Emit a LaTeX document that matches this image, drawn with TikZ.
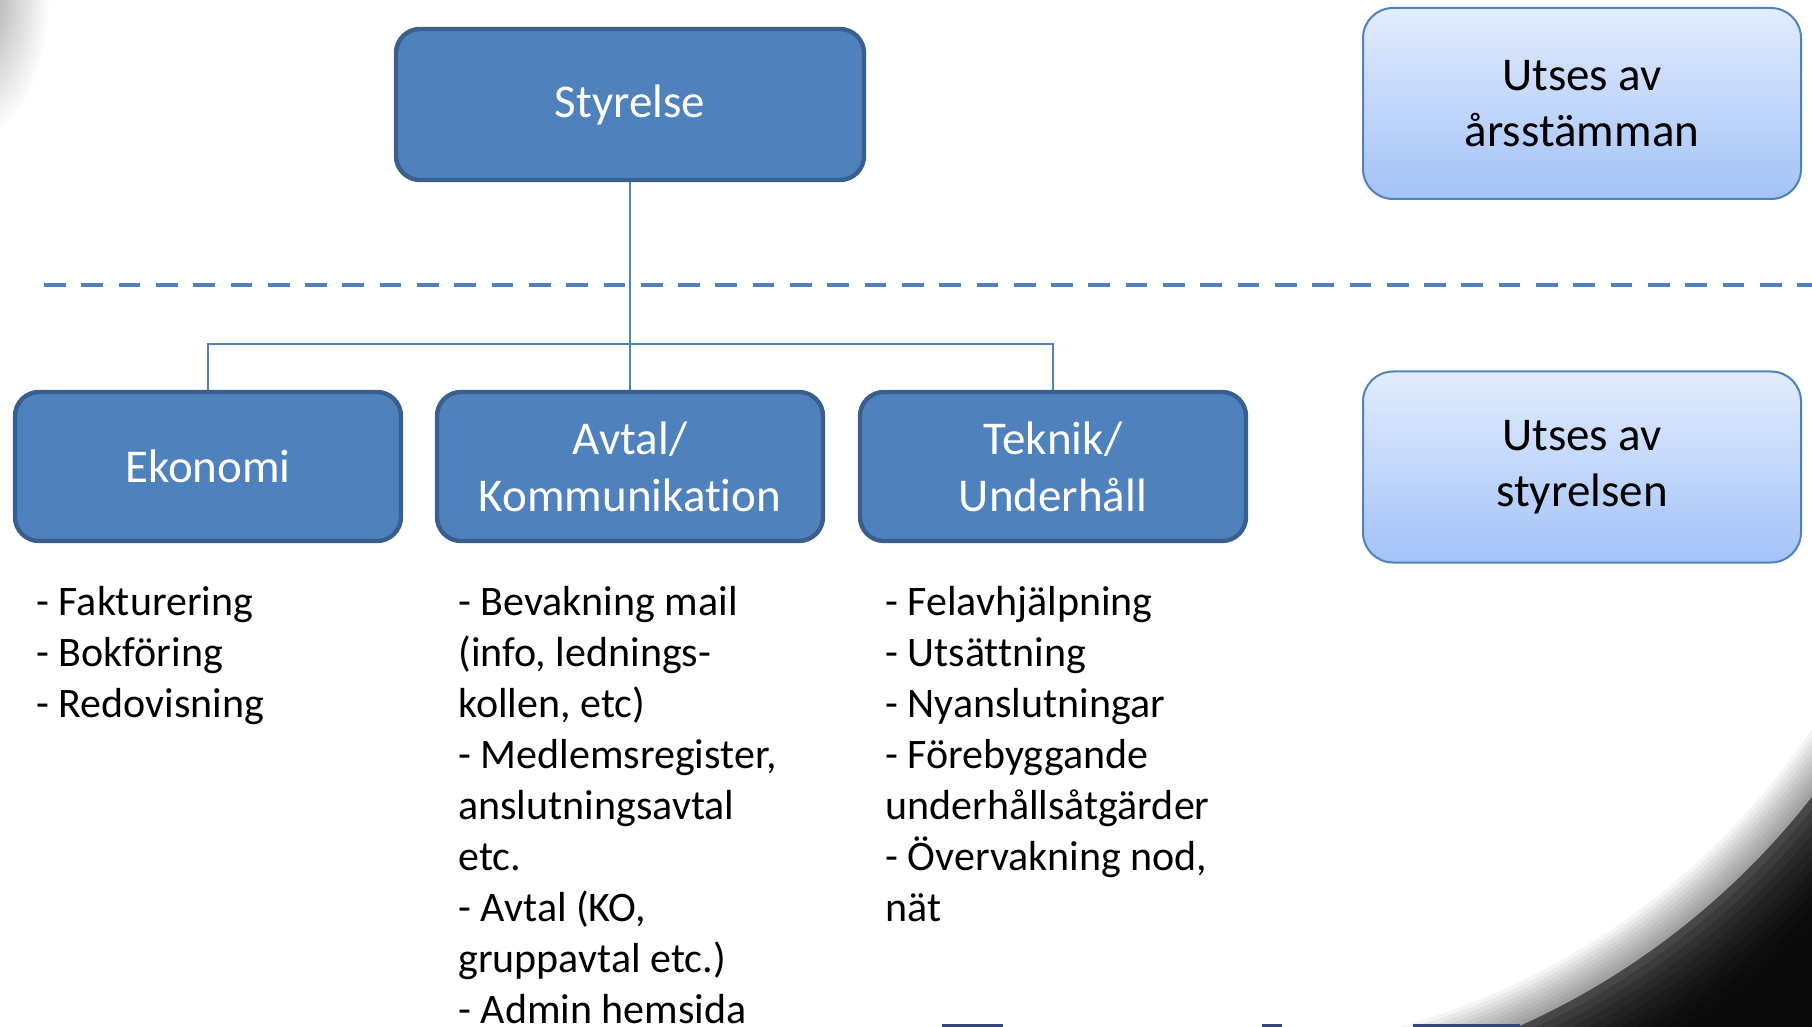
\documentclass[tikz,border=0pt]{standalone}
\usepackage{fontspec}
\setmainfont{Carlito}[Ligatures=NoCommon]
\usepackage{tikz}
\definecolor{unit}{HTML}{4F81BD}
\definecolor{edge}{HTML}{3A5F8E}
\definecolor{link}{HTML}{4F81BD}
\definecolor{top}{HTML}{E2ECFD}
\definecolor{bottom}{HTML}{A3C2F7}
\definecolor{bar}{HTML}{34467A}
\tikzset{board/.style={white,draw=edge,fill=unit,line width=2.2pt,rounded corners=12pt,rectangle,align=center,font=\fontsize{23.5pt}{28.5pt}\selectfont}}
\tikzset{unit/.style={board,minimum width=193pt,minimum height=74.5pt}}
\tikzset{oversee/.style={black,draw=unit,line width=1pt,rounded corners=15pt,top color=top,bottom color=bottom,rectangle,align=center,minimum width=219pt,minimum height=95.5pt,font=\fontsize{23.5pt}{28pt}\selectfont}}
\tikzset{tasks/.style={black,inner sep=0pt,anchor=north west,align=left,font=\fontsize{21pt}{25.5pt}\selectfont}}
\tikzset{wire/.style={draw=link,line width=1pt}}

\begin{document}
\begin{tikzpicture}[x=0.5pt,y=-0.5pt]
    \useasboundingbox (0,0) rectangle (1812,1027);
    \fill[white] (0,0) rectangle (1812,1027);
    \begin{scope}
        \clip (0,0) rectangle (1812,1027);
        \shade[inner color=black!38,outer color=white] (-25,-10) ellipse (75 and 150);
    \end{scope}
    \begin{scope}
        \clip (1300,600) rectangle (1840,1050);
        \foreach \r in {730,734,...,766} \fill[black,opacity=0.045,even odd rule] (1250,550) rectangle (1900,1100) (1205,323) circle (\r);
        \fill[black!72,even odd rule] (1250,550) rectangle (1900,1100) (1205,323) circle (770);
        \foreach \r in {778,786,...,850} \fill[black,opacity=0.16,even odd rule] (1250,550) rectangle (1900,1100) (1205,323) circle (\r);
    \end{scope}

    \node[board,minimum width=234pt,minimum height=75.5pt] (styrelse) at (630,104.5) {\raisebox{-1.5pt}{Styrelse}};

    \node[unit] (ekonomi) at (208,466.5) {Ekonomi};
    \node[unit] (avtal) at (630,466.5) {Avtal/\\Kommunikation};
    \node[unit] (teknik) at (1053,466.5) {Teknik/\\Underhåll};

    \node[oversee] (utses1) at (1582,103.5) {Utses av\\årsstämman};
    \node[oversee] (utses2) at (1582,467) {Utses av\\styrelsen};

    \draw[draw=link,line width=2pt,dash pattern=on 10.85pt off 7.8pt] (44,285) -- (1812,285);

    \coordinate (bar) at (630,344);
    \draw[wire] (styrelse) -- (avtal);
    \draw[wire] (ekonomi.north) |- (bar) -| (teknik.north);

    \node[tasks] (ekonomilist) at (36,586) {- Fakturering\\- Bokföring\\- Redovisning};
    \node[tasks] (avtallist) at (458,586) {- Bevakning mail\\(info, lednings-\\kollen, etc)\\- Medlemsregister,\\anslutningsavtal\\etc.\\- Avtal (KO,\\gruppavtal etc.)\\- Admin hemsida};
    \node[tasks] (tekniklist) at (885,586) {- Felavhjälpning\\- Utsättning\\- Nyanslutningar\\- Förebyggande\\underhållsåtgärder\\- Övervakning nod,\\nät};

    \fill[bar] (942,1024) rectangle (1003,1030);
    \fill[bar] (1262,1024) rectangle (1282,1030);
    \fill[bar] (1413,1024) rectangle (1520,1030);
\end{tikzpicture}
\end{document}
